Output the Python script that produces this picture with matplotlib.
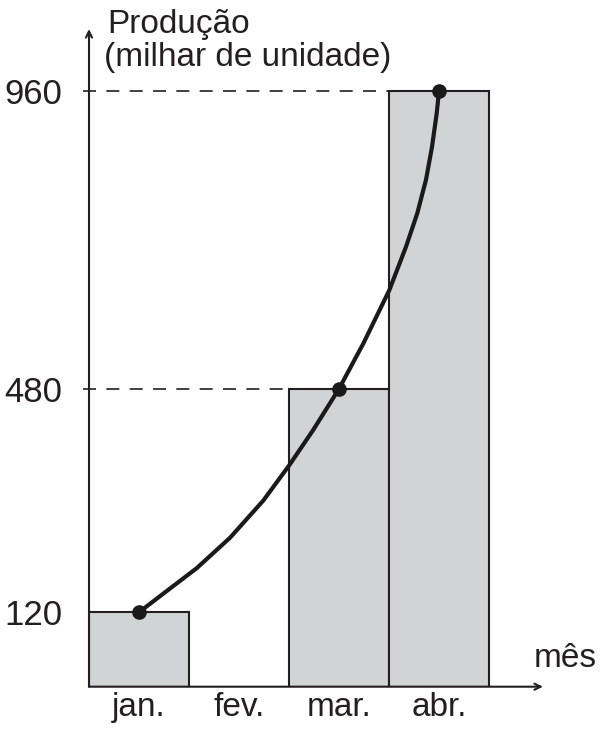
import numpy as np
import matplotlib
matplotlib.use("Agg")
import matplotlib.pyplot as plt

plt.rcParams['font.family'] = ['Liberation Sans', 'DejaVu Sans']

# data
months = ['jan.', 'fev.', 'mar.', 'abr.']
bar_idx = [0, 2, 3]
bar_vals = [120, 480, 960]
tick_vals = [120, 480, 960]
dashed_vals = [480, 960]
# points along the drawn curve (month index, production)
curve_x = [0.0, 0.243, 0.577, 0.91, 1.243, 1.503, 1.743, 2.0, 2.243, 2.503,
           2.67, 2.783, 2.87, 2.93, 2.977, 3.0]
curve_y = [120, 150, 191, 240, 300, 357, 414, 480, 553, 639,
           709, 763, 817, 870, 924, 960]
dot_x = [0, 2, 3]
dot_y = [120, 480, 960]

ink = '#231f20'
fill = '#d1d3d4'
W, H = 605, 736

fig = plt.figure(figsize=(W / 100, H / 100), dpi=100)
ax = fig.add_axes([89 / W, (H - 686.7) / H, (543 - 89) / W, (686.7 - 29) / H])
ax.set_xlim(-0.5, 4.04)
ax.set_ylim(0, (686.7 - 29) / 0.6205)

ax.bar(bar_idx, bar_vals, width=1.0, color=fill, edgecolor=ink, linewidth=1.5, zorder=2)

# dashed guides from the y axis to the bar
for v in dashed_vals:
    left = bar_idx[bar_vals.index(v)] - 0.5
    ax.plot([-0.56, left], [v, v], color=ink, lw=1.2, ls=(0, (7.8, 6.2)),
            clip_on=False, zorder=3)

ax.plot(curve_x, curve_y, color='#1a1a1a', lw=3.0, solid_joinstyle='round',
        solid_capstyle='round', zorder=4)
ax.plot(dot_x, dot_y, 'o', color='#1a1a1a', ms=9.5, zorder=5)

for s in ax.spines.values():
    s.set_visible(False)

# axes with open arrow heads
arrow = dict(arrowstyle='->,head_length=0.45,head_width=0.22', lw=1.5, color=ink,
             shrinkA=0, shrinkB=0)
ax.annotate('', xy=(1, 0), xytext=(0, 0), xycoords='axes fraction', arrowprops=arrow)
ax.annotate('', xy=(0, 1), xytext=(0, 0), xycoords='axes fraction', arrowprops=arrow)

ax.set_yticks(tick_vals)
ax.set_yticklabels([str(v) for v in tick_vals])
ax.set_xticks(range(len(months)))
ax.set_xticklabels(months)
ax.tick_params(axis='y', length=0, pad=19, labelsize=25, labelcolor=ink)
ax.tick_params(axis='x', length=0, pad=4, labelsize=24, labelcolor=ink)

fig.text(107 / W, 1 - 33 / H, 'Produção', fontsize=24, color=ink, va='baseline')
fig.text(104 / W, 1 - 66 / H, '(milhar de unidade)', fontsize=24, color=ink, va='baseline')
fig.text(534 / W, 1 - 667 / H, 'mês', fontsize=24, color=ink, va='baseline')

fig.savefig('out.png', dpi=100)
